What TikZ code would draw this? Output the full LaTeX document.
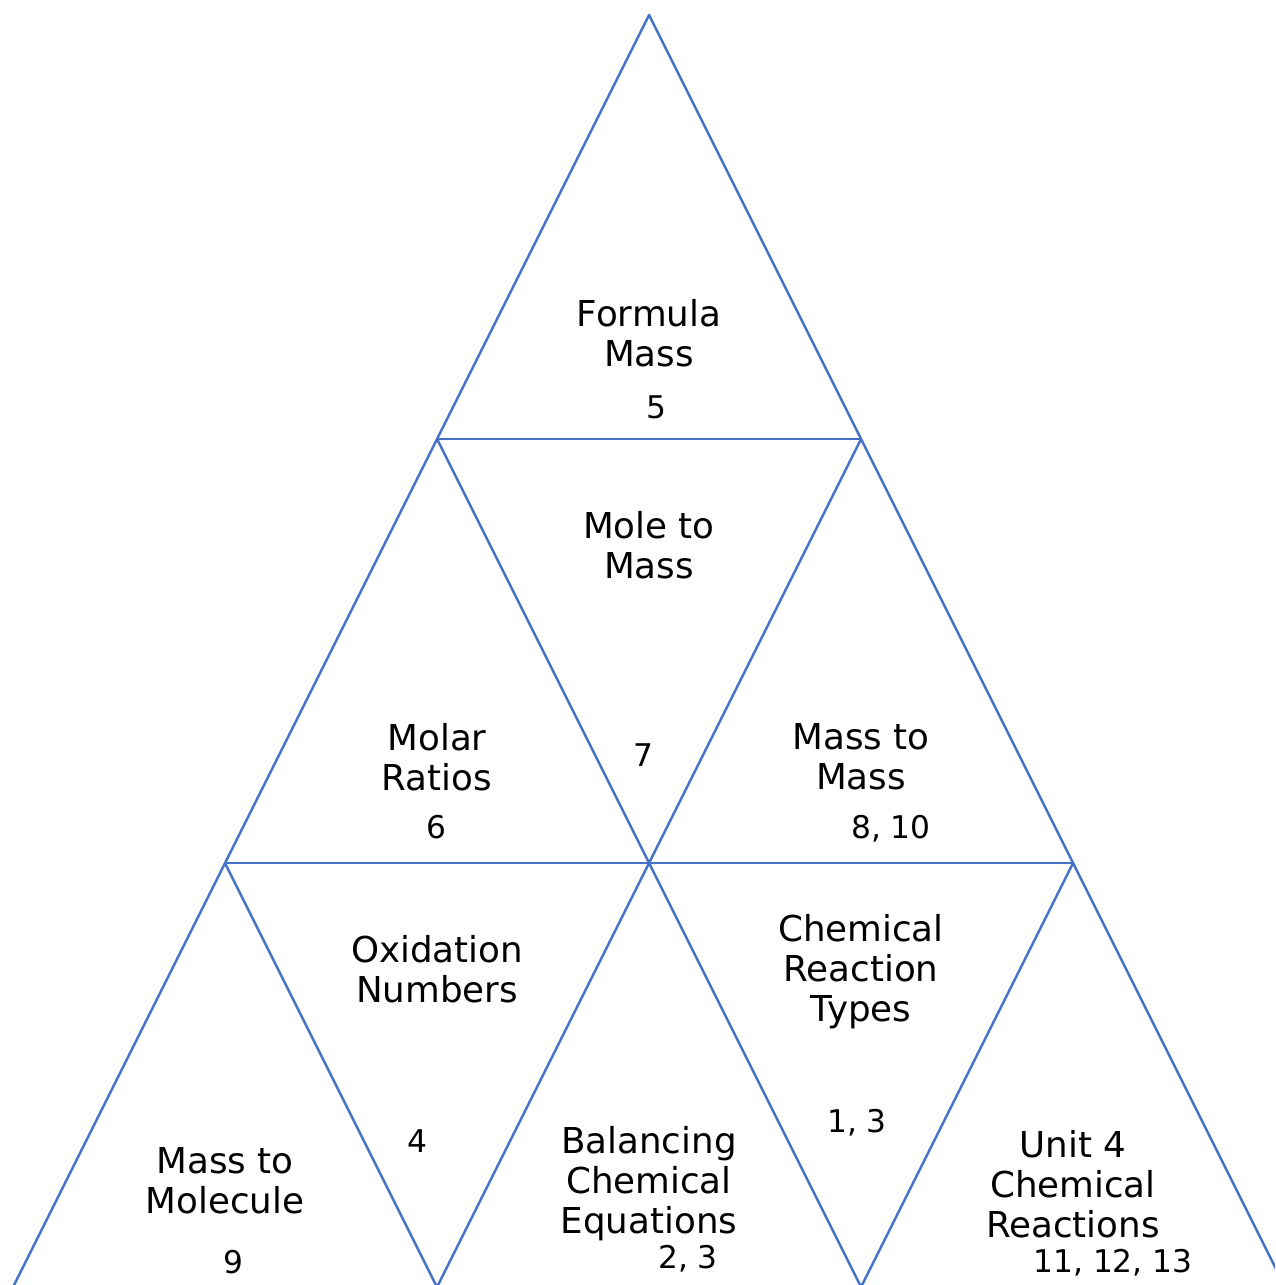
\documentclass[tikz,border=0pt]{standalone}
\usepackage{fontspec}
\setmainfont{DejaVu Sans}
\usepackage{xcolor}
\definecolor{edgeblue}{HTML}{4472C4}

\begin{document}
\begin{tikzpicture}[x=0.02cm, y=-0.02cm,
    topic/.style={align=center, inner sep=0pt, font=\fontsize{20.3}{22.7}\selectfont},
    num/.style={inner sep=0pt, font=\fontsize{17.8}{20}\selectfont}]
    \useasboundingbox (0,0) rectangle (1275,1285);
    \clip (0,0) rectangle (1275,1285);

    % corners of the small triangles
    \coordinate (a) at (649,15);
    \coordinate (b1) at (437,439);  \coordinate (b2) at (861,439);
    \coordinate (c1) at (225,863);  \coordinate (c3) at (1073,863);
    \coordinate (d1) at (13,1287);  \coordinate (d2) at (437,1287); \coordinate (d3) at (861,1287); \coordinate (d4) at (1285,1287);

    \draw[edgeblue, line width=1.4pt, line join=round] (a) -- (d1) -- (d4) -- cycle;
    \draw[edgeblue, line width=1.4pt] (b1) -- (b2);
    \draw[edgeblue, line width=1.4pt] (c1) -- (c3);
    \draw[edgeblue, line width=1.4pt] (b1) -- (d3);
    \draw[edgeblue, line width=1.4pt] (b2) -- (d2);
    \draw[edgeblue, line width=1.4pt] (c1) -- (d2);
    \draw[edgeblue, line width=1.4pt] (c3) -- (d3);

    \node[topic] (formula) at (649,333) {Formula\\Mass};
    \node[num] (n5) at (656,407) {5};
    \node[topic] (moletomass) at (649,545) {Mole to\\Mass};
    \node[num] (n7) at (643,755) {7};
    \node[topic] (molar) at (437,757) {Molar\\Ratios};
    \node[num] (n6) at (436,827) {6};
    \node[topic] (masstomass) at (861,757) {Mass to\\Mass};
    \node[num] (n810) at (891,829) {8, 10};
    \node[topic] (oxidation) at (437,969) {Oxidation\\Numbers};
    \node[num] (n4) at (417,1141) {4};
    \node[topic] (types) at (861,972) {Chemical\\Reaction\\Types};
    \node[num] (n13) at (857,1123) {1, 3};
    \node[topic] (molecule) at (225,1181) {Mass to\\Molecule};
    \node[num] (n9) at (233,1262) {9};
    \node[topic] (balancing) at (649,1184) {Balancing\\Chemical\\Equations};
    \node[num] (n23) at (688,1259) {2, 3};
    \node[topic] (unit) at (1073,1184) {Unit 4\\Chemical\\Reactions};
    \node[num] (n111213) at (1113,1263) {11, 12, 13};
\end{tikzpicture}
\end{document}
